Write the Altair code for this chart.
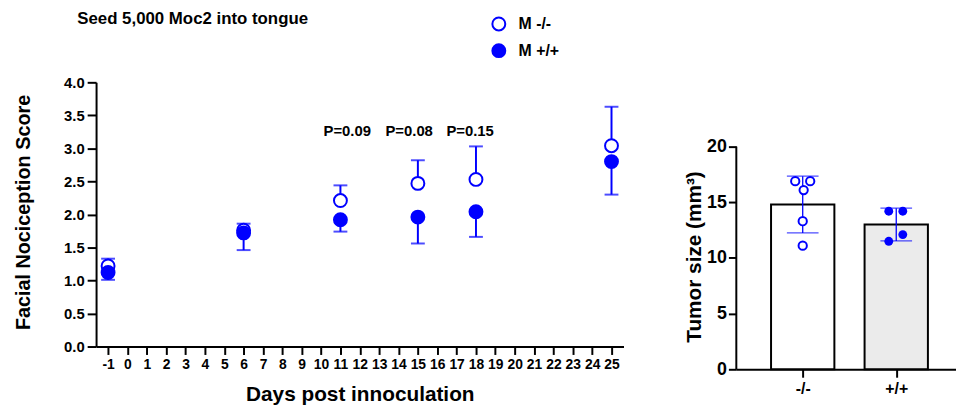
import altair as alt
import pandas as pd

# ---------------- data ----------------
series = ["M -/-", "M +/+"]
days = [-1, 6, 11, 15, 18, 25]
ko_mean = [1.22, 1.76, 2.21, 2.47, 2.53, 3.04]
ko_upper = [1.33, 1.86, 2.44, 2.82, 3.03, 3.63]
wt_mean = [1.12, 1.72, 1.92, 1.96, 2.04, 2.80]
wt_lower = [1.01, 1.46, 1.74, 1.56, 1.66, 2.30]

p_text = ["P=0.09", "P=0.08", "P=0.15"]
p_x = [11.35, 14.55, 17.7]
p_y = [3.18, 3.18, 3.18]

x_ticks = list(range(-1, 26))
y_ticks = [0.0, 0.5, 1.0, 1.5, 2.0, 2.5, 3.0, 3.5, 4.0]

title_text = "Seed 5,000 Moc2 into tongue"

tumor_groups = ["-/-", "+/+"]
tumor_mean = [14.8, 13.0]
tumor_sd = [2.55, 1.47]
ko_pts = [16.9, 16.9, 16.1, 13.3, 11.1]
ko_jit = [-0.08, 0.08, 0.01, 0.0, 0.0]
wt_pts = [14.2, 14.2, 12.1, 11.5]
wt_jit = [-0.08, 0.07, 0.07, -0.08]
tumor_ticks = [0, 5, 10, 15, 20]
tumor_axis_max = 20

# ---------------- styles ----------------
BLUE = "#0000ff"
FONT = "Liberation Sans"

pts = pd.DataFrame({
    "day": days * 2,
    "mean": ko_mean + wt_mean,
    "end": ko_upper + wt_lower,
    "series": [series[0]] * len(days) + [series[1]] * len(days),
})
pdf = pd.DataFrame({"text": p_text, "x": p_x, "y": p_y})
tdf = pd.DataFrame({"text": [title_text]})

xs = alt.Scale(domain=[-1.62, 25.62], nice=False, zero=False)
ys = alt.Scale(domain=[0, 4], nice=False, zero=False)

x_enc = alt.X("day:Q", scale=xs, axis=alt.Axis(
    values=x_ticks, tickCount=60, labelExpr="'' + datum.value",
    title="Days post innoculation",
    labelFlush=False, labelOverlap=False, labelFontSize=14,
    tickSize=8, labelPadding=3, titleFontSize=21,
    titleY=55, titleBaseline="alphabetic"))
y_enc = alt.Y("mean:Q", scale=ys, axis=alt.Axis(
    values=y_ticks, tickCount=60, format=".1f", title="Facial Nociception Score",
    labelFontSize=15, tickSize=9, labelPadding=3, titleFontSize=20,
    titleX=-67, titleY=131, titleBaseline="alphabetic", labelFlush=False))

base = alt.Chart(pts)
rules = base.mark_rule(color=BLUE, strokeWidth=2).encode(x=x_enc, y=y_enc, y2="end:Q")
caps = base.mark_tick(orient="horizontal", color=BLUE, thickness=2, size=14).encode(
    x="day:Q", y="end:Q")
dots = base.mark_circle(size=170, stroke=BLUE, strokeWidth=2, opacity=1).encode(
    x="day:Q", y="mean:Q",
    fill=alt.Fill("series:N", sort=series,
                  scale=alt.Scale(domain=series, range=["white", BLUE]),
                  legend=alt.Legend(
                      title=None, orient="none", legendX=399, legendY=-67,
                      symbolType="circle", symbolSize=170, symbolStrokeColor=BLUE,
                      symbolStrokeWidth=2, labelFont=FONT, labelFontSize=16,
                      labelFontWeight="bold", labelColor="black", rowPadding=5,
                      labelOffset=12, padding=0)))
ptext = alt.Chart(pdf).mark_text(font=FONT, fontSize=15, fontWeight="bold",
                                 baseline="alphabetic", align="center", color="black").encode(
    x=alt.X("x:Q", scale=xs), y=alt.Y("y:Q", scale=ys), text="text:N")
title = alt.Chart(tdf).mark_text(font=FONT, fontSize=17, fontWeight="bold",
                                 baseline="top", align="left", color="black").encode(
    x=alt.value(-19), y=alt.value(-72), text="text:N")

left = alt.layer(rules, caps, dots, ptext, title).properties(width=533, height=267)

# ---------------- right panel ----------------
bdf = pd.DataFrame({
    "g": [0, 1],
    "label": tumor_groups,
    "mean": tumor_mean,
    "lo": [m - s for m, s in zip(tumor_mean, tumor_sd)],
    "hi": [m + s for m, s in zip(tumor_mean, tumor_sd)],
})
kdf = pd.DataFrame({"x": [0 + j for j in ko_jit], "v": ko_pts})
wdf = pd.DataFrame({"x": [1 + j for j in wt_jit], "v": wt_pts})
adf = pd.DataFrame({"lo": [0], "hi": [tumor_axis_max]})

RH = 290
rxs = alt.Scale(domain=[-0.657, 1.586], nice=False, zero=False)
rys = alt.Scale(domain=[0, tumor_axis_max * RH / 225.0], nice=False)
label_expr = f"datum.value == 0 ? '{tumor_groups[0]}' : '{tumor_groups[1]}'"

rx_enc = alt.X("g:Q", scale=rxs, axis=alt.Axis(
    values=[0, 1], labelExpr=label_expr, title=None, labelFlush=False,
    labelFontSize=16, tickSize=8, labelPadding=3))
ry_enc = alt.Y("mean:Q", scale=rys, axis=alt.Axis(
    values=tumor_ticks, format="d", title="Tumor size (mm³)", domain=False,
    labelFontSize=18, tickSize=8, labelPadding=2, titleFontSize=21,
    titleX=-36, titleY=176, titleBaseline="alphabetic", labelFlush=False))

rb = alt.Chart(bdf)
bars = rb.mark_bar(size=64, stroke="black", strokeWidth=2).encode(
    x=rx_enc, y=ry_enc,
    fill=alt.condition("datum.g == 1", alt.value("#ebebeb"), alt.value("white")))
rrule = rb.mark_rule(color=BLUE, strokeWidth=1.3).encode(x="g:Q", y="lo:Q", y2="hi:Q")
rcap_lo = rb.mark_tick(orient="horizontal", color=BLUE, thickness=1.3, size=32).encode(
    x="g:Q", y="lo:Q")
rcap_hi = rb.mark_tick(orient="horizontal", color=BLUE, thickness=1.3, size=32).encode(
    x="g:Q", y="hi:Q")
kpts = alt.Chart(kdf).mark_circle(size=70, fill="white", stroke=BLUE, strokeWidth=2,
                                  opacity=1).encode(
    x=alt.X("x:Q", scale=rxs), y=alt.Y("v:Q", scale=rys))
wpts = alt.Chart(wdf).mark_circle(size=80, color=BLUE, opacity=1).encode(
    x=alt.X("x:Q", scale=rxs), y=alt.Y("v:Q", scale=rys))
yline = alt.Chart(adf).mark_rule(color="black", strokeWidth=2).encode(
    x=alt.value(0), y=alt.Y("lo:Q", scale=rys), y2="hi:Q")

right = alt.layer(bars, rrule, rcap_lo, rcap_hi, kpts, wpts, yline).properties(
    width=222, height=RH)

chart = alt.hconcat(left, right, spacing=61).configure_view(stroke=None).configure_axis(
    domainColor="black", domainWidth=2, tickColor="black", tickWidth=2,
    labelFont=FONT, labelFontWeight="bold", labelColor="black",
    titleFont=FONT, titleFontWeight="bold", titleColor="black", grid=False
).properties(padding={"left": 5, "top": 0, "right": 0, "bottom": 0})

chart.save("out.html", embed_options={"renderer": "svg", "actions": False})
